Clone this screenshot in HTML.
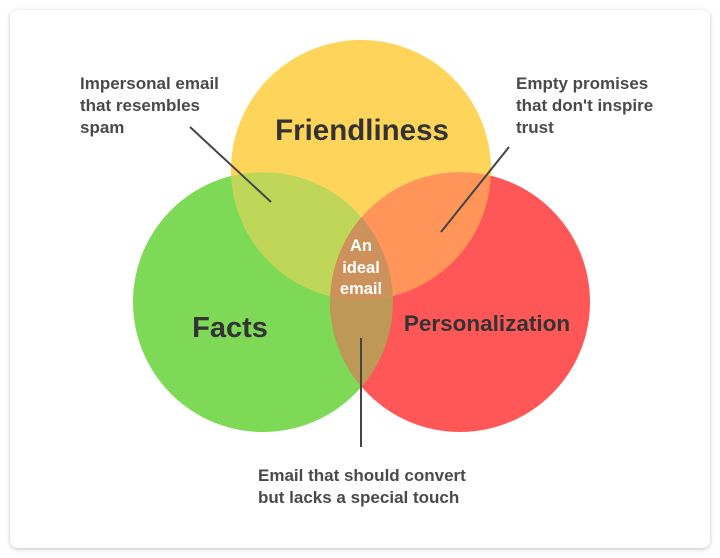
<!DOCTYPE html>
<html><head><style>
html,body{margin:0;padding:0;background:#fff;}
svg{display:block;}
text{font-family:"Liberation Sans","DejaVu Sans",sans-serif;font-weight:bold;}
</style></head><body>
<svg width="720" height="558" viewBox="0 0 720 558" xmlns="http://www.w3.org/2000/svg">
<defs>
<filter id="sh" x="-5%" y="-5%" width="110%" height="110%"><feDropShadow dx="0" dy="1" stdDeviation="2" flood-color="#000" flood-opacity="0.25"/></filter>
<clipPath id="cr"><circle cx="460" cy="302" r="130"/></clipPath>
<clipPath id="cg"><circle cx="263" cy="302" r="130"/></clipPath>
<mask id="my"><rect width="720" height="558" fill="#fff"/><circle cx="263" cy="302" r="130" fill="#000"/><circle cx="460" cy="302" r="130" fill="#000"/></mask>
</defs>
<rect x="10" y="10" width="700" height="538" rx="8" fill="#fff" filter="url(#sh)"/>
<circle cx="263" cy="302" r="130" fill="#7ED957"/>
<circle cx="460" cy="302" r="130" fill="#FF5757"/>
<circle cx="263" cy="302" r="130" fill="#7ED957" opacity="0.5" clip-path="url(#cr)"/>
<circle cx="361" cy="170" r="130" fill="#FFD45A" opacity="0.5"/>
<circle cx="361" cy="170" r="130" fill="#FFD45A" mask="url(#my)"/>
<g clip-path="url(#cg)"><circle cx="361" cy="170" r="130" fill="#CD925B" clip-path="url(#cr)"/></g>
<g stroke="#444" stroke-width="2">
<line x1="190" y1="127" x2="271" y2="202"/>
<line x1="509" y1="147" x2="441" y2="232"/>
<line x1="361" y1="338" x2="361" y2="447"/>
</g>
<g fill="#4a4a4a" font-size="17">
<text x="80" y="89">Impersonal email</text>
<text x="80" y="111">that resembles</text>
<text x="80" y="133">spam</text>
<text x="516" y="89">Empty promises</text>
<text x="516" y="111">that don't inspire</text>
<text x="516" y="133">trust</text>
<text x="258" y="481">Email that should convert</text>
<text x="258" y="503">but lacks a special touch</text>
</g>
<g fill="#333">
<text x="362" y="140" font-size="29.5" text-anchor="middle">Friendliness</text>
<text x="230" y="337" font-size="29" text-anchor="middle">Facts</text>
<text x="487" y="331" font-size="22.5" text-anchor="middle">Personalization</text>
</g>
<g fill="#fff" font-size="16.5" text-anchor="middle">
<text x="361" y="251">An</text>
<text x="361" y="273">ideal</text>
<text x="361" y="294">email</text>
</g>
</svg>
</body></html>
